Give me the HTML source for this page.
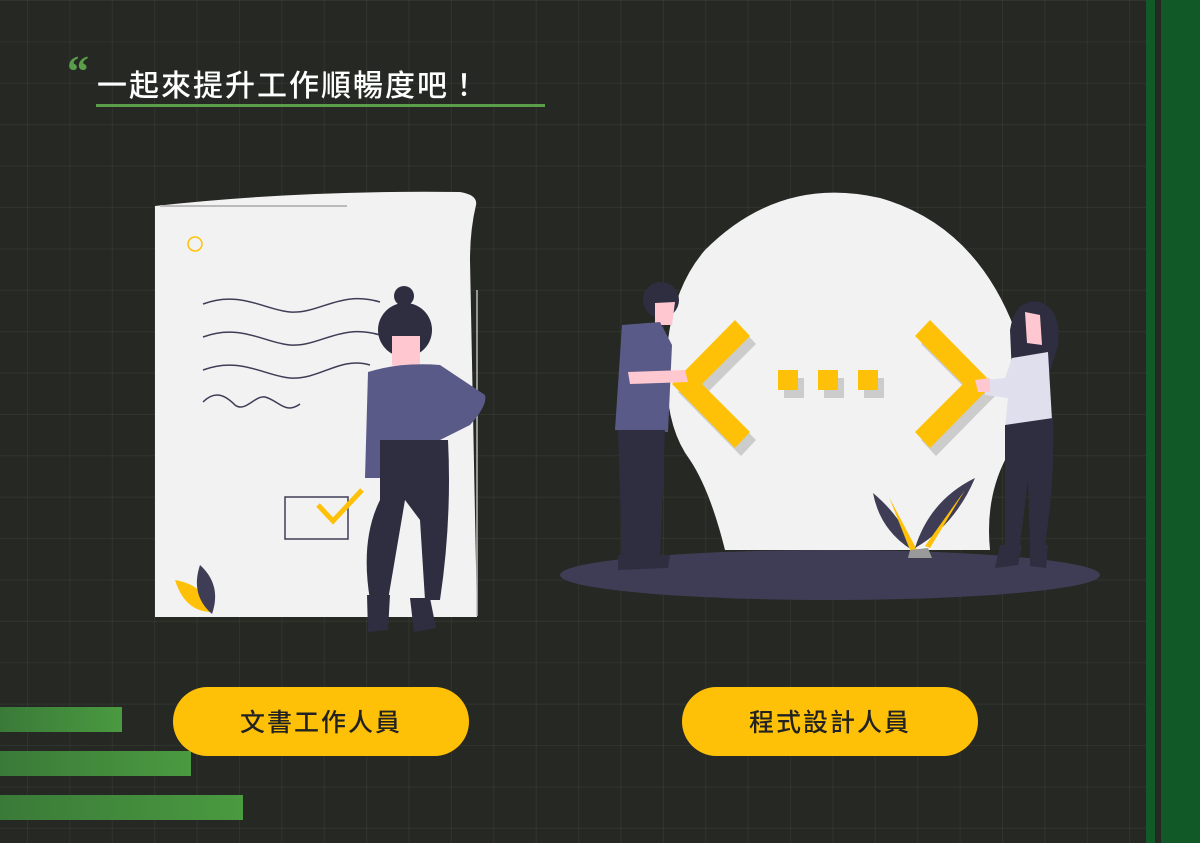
<!DOCTYPE html>
<html><head><meta charset="utf-8"><style>
html,body{margin:0;padding:0}
body{width:1200px;height:843px;overflow:hidden;background:#262823;position:relative;font-family:"Liberation Sans","Noto Sans CJK TC",sans-serif}
.grid{position:absolute;left:0;top:0;width:1146px;height:843px;
background-image:linear-gradient(to right,rgba(255,255,255,0.05) 1px,transparent 1px),linear-gradient(to bottom,rgba(255,255,255,0.05) 1px,transparent 1px);
background-size:42.4px 41.4px;background-position:27px 0px}
.g1{position:absolute;left:1146px;top:0;width:9px;height:843px;background:#115a28}
.g2{position:absolute;left:1161px;top:0;width:39px;height:843px;background:#115a28}
.bar{position:absolute;left:0;height:25px;background:linear-gradient(to right,#3a7a38,#4a9a40)}
.btn{position:absolute;top:687px;width:296px;height:69px;border-radius:35px;background:#ffc107;color:#222;font-size:25px;font-weight:500;text-align:center;line-height:69px;letter-spacing:2px;font-family:"Noto Sans CJK TC",sans-serif}
.title{position:absolute;left:97px;top:63px;color:#fff;font-size:30px;font-weight:500;letter-spacing:2px;font-family:"Noto Sans CJK TC",sans-serif;line-height:40px}
.ul{position:absolute;left:96px;top:104px;width:449px;height:3px;background:#5a9e4a}
.q{position:absolute;left:67px;top:50px;color:#5a9e4a;font-size:44px;line-height:44px;font-family:"Liberation Serif",serif;font-weight:bold}
</style></head><body>
<div class="grid"></div>
<div class="g1"></div><div class="g2"></div>
<div class="q">“</div>
<div class="title">一起來提升工作順暢度吧！</div>
<div class="ul"></div>
<div class="bar" style="top:707px;width:122px"></div>
<div class="bar" style="top:751px;width:191px"></div>
<div class="bar" style="top:795px;width:243px"></div>
<div class="btn" style="left:173px">文書工作人員</div>
<div class="btn" style="left:682px">程式設計人員</div>
<svg style="position:absolute;left:0;top:0" width="1200" height="843" viewBox="0 0 1200 843">
<path d="M155 206 Q300 190 460 192 Q478 195 476 205 Q470 230 470 260 L477 617 L155 617 Z" fill="#f2f2f2"/>
<line x1="160" y1="206" x2="347" y2="206" stroke="#bbb" stroke-width="2"/>
<line x1="477" y1="290" x2="477" y2="616" stroke="#bbb" stroke-width="1.5"/>
<circle cx="195" cy="244" r="7" fill="none" stroke="#ffc107" stroke-width="1.5"/>
<g fill="none" stroke="#3f3d56" stroke-width="1.5">
<path d="M203 304 C240 290 265 310 290 312 C320 314 340 290 380 302"/>
<path d="M203 337 C240 323 265 343 290 345 C320 347 340 323 380 335"/>
<path d="M203 370 C240 356 265 376 290 378 C320 380 340 356 370 365"/>
<path d="M203 402 C215 390 225 395 235 405 C245 413 255 395 265 397 C278 400 285 415 300 404"/>
</g>
<rect x="285" y="497" width="63" height="42" fill="none" stroke="#3f3d56" stroke-width="1.5"/>
<path d="M318 505 L333 521 L362 490" fill="none" stroke="#ffc107" stroke-width="5"/>
<path d="M175 580 Q205 585 212 612 Q185 612 175 580Z" fill="#ffc107"/>
<path d="M200 565 Q222 585 212 614 Q190 595 200 565Z" fill="#3f3d56"/>
<circle cx="404" cy="296" r="10" fill="#2f2e41"/>
<circle cx="405" cy="330" r="27" fill="#2f2e41"/>
<path d="M392 336 L420 336 L420 365 Q405 372 392 365Z" fill="#ffc8d0"/>
<path d="M368 372 Q400 362 440 365 L485 395 Q488 405 470 425 L440 440 L440 447 L382 447 L388 478 L365 478 Z" fill="#5a5a88"/>
<path d="M380 440 L448 440 Q452 520 440 600 L425 600 L420 520 L405 500 L388 600 L370 600 Q360 540 380 500Z" fill="#2f2e41"/>
<path d="M367 595 L390 595 L388 630 L368 632Z M410 598 L430 598 L436 628 L414 632Z" fill="#2f2e41"/>
<path d="M705 250 Q780 175 880 198 Q975 225 1015 330 Q1030 420 1005 460 Q985 500 990 550 L725 550 Q710 490 690 460 Q660 420 668 340 Q675 285 705 250Z" fill="#f2f2f2"/>
<ellipse cx="830" cy="575" rx="270" ry="25" fill="#3f3d56"/>
<g fill="#ccc" transform="translate(6,8)">
<path d="M735 320 L750 336 L702 384 L750 432 L735 448 L672 384Z"/>
<rect x="778" y="370" width="20" height="20"/><rect x="818" y="370" width="20" height="20"/><rect x="858" y="370" width="20" height="20"/>
<path d="M930 320 L915 336 L963 384 L915 432 L930 448 L993 384Z"/>
</g>
<g fill="#ffc107">
<path d="M735 320 L750 336 L702 384 L750 432 L735 448 L672 384Z"/>
<rect x="778" y="370" width="20" height="20"/><rect x="818" y="370" width="20" height="20"/><rect x="858" y="370" width="20" height="20"/>
<path d="M930 320 L915 336 L963 384 L915 432 L930 448 L993 384Z"/>
</g>
<circle cx="661" cy="300" r="18" fill="#2f2e41"/>
<path d="M655 303 L675 302 L672 325 L655 325Z" fill="#ffc8d0"/>
<path d="M622 325 L660 322 L672 345 L668 432 L615 430 Z" fill="#5a5a88"/>
<path d="M628 372 L685 370 L688 382 L630 384Z" fill="#ffc8d0"/>
<path d="M618 430 L665 430 L660 560 L622 562Z" fill="#2f2e41"/>
<path d="M618 555 L670 555 L668 568 L618 570Z" fill="#2f2e41"/>
<path d="M1010 330 Q1015 298 1040 302 Q1062 310 1058 345 L1050 372 L1012 375Z" fill="#2f2e41"/>
<path d="M1025 312 L1040 315 L1042 345 L1027 343Z" fill="#ffc8d0"/>
<path d="M1012 358 L1048 352 L1052 420 L1005 428 L1008 398 L985 395 L985 380 L1005 378Z" fill="#e0dfed"/>
<path d="M975 380 L990 378 L990 392 L978 392Z" fill="#ffc8d0"/>
<path d="M1005 425 L1053 418 Q1055 480 1045 545 L1030 545 L1028 480 L1020 545 L1005 545Z" fill="#2f2e41"/>
<path d="M1000 545 L1022 545 L1018 565 L995 568Z M1030 545 L1048 545 L1046 568 L1030 566Z" fill="#2f2e41"/>
<path d="M873 493 Q905 520 912 550 Q880 530 873 493Z" fill="#3f3d56"/>
<path d="M889 497 L917 550 L910 550Z" fill="#ffc107"/>
<path d="M975 478 Q930 500 915 548 Q955 525 975 478Z" fill="#3f3d56"/>
<path d="M965 490 L925 546 L930 548Z" fill="#ffc107"/>
<path d="M910 550 L928 548 L932 558 L908 558Z" fill="#999"/>
</svg>
</body></html>
